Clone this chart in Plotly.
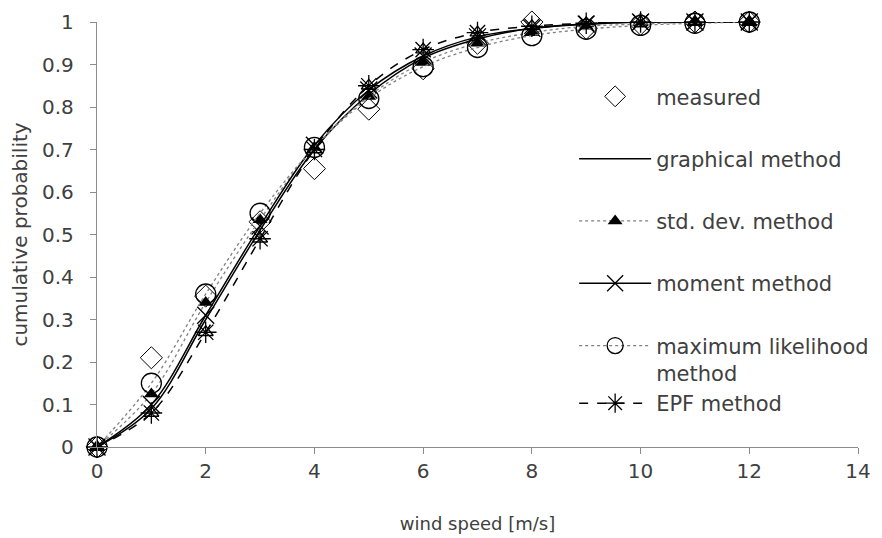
import plotly.graph_objects as go

wind_speed = [0, 1, 2, 3, 4, 5, 6, 7, 8, 9, 10, 11, 12]

measured = [0.0, 0.21, 0.355, 0.53, 0.655, 0.795, 0.89, 0.95, 1.0, 0.985, 0.995, 1.0, 1.0]
graphical = [0.0, 0.09, 0.30, 0.51, 0.70, 0.83, 0.915, 0.96, 0.985, 0.995, 1.0, 1.0, 1.0]
std_dev = [0.0, 0.125, 0.34, 0.535, 0.705, 0.825, 0.905, 0.95, 0.975, 0.99, 0.995, 1.0, 1.0]
moment = [0.0, 0.10, 0.31, 0.52, 0.71, 0.84, 0.92, 0.965, 0.985, 0.995, 1.0, 1.0, 1.0]
max_likelihood = [0.0, 0.15, 0.36, 0.55, 0.705, 0.82, 0.895, 0.94, 0.968, 0.983, 0.992, 0.997, 1.0]
epf = [0.0, 0.08, 0.27, 0.49, 0.70, 0.85, 0.935, 0.975, 0.99, 0.997, 1.0, 1.0, 1.0]

x_ticks = [0, 2, 4, 6, 8, 10, 12, 14]
y_ticks = [0, 0.1, 0.2, 0.3, 0.4, 0.5, 0.6, 0.7, 0.8, 0.9, 1]
y_tick_text = ["0", "0.1", "0.2", "0.3", "0.4", "0.5", "0.6", "0.7", "0.8", "0.9", "1"]

FONT = "DejaVu Sans"
TEXT = "#404040"
AXIS_GREY = "#8c8c8c"

fig = go.Figure()

# open triangles (unlabelled markers seen under the curves)
fig.add_trace(go.Scatter(
    x=wind_speed, y=epf, mode="markers", showlegend=False,
    marker=dict(symbol="triangle-up-open", size=13, color="black", line=dict(width=1.3)),
    cliponaxis=False, hoverinfo="skip"))

fig.add_trace(go.Scatter(
    x=wind_speed, y=measured, mode="markers", name="measured", legendgroup="a",
    marker=dict(symbol="diamond-open", size=17, color="black", line=dict(width=1)),
    cliponaxis=False))

fig.add_trace(go.Scatter(
    x=wind_speed, y=graphical, mode="lines", name="graphical method", legendgroup="b",
    line=dict(color="black", width=1.5, shape="spline"), cliponaxis=False))

fig.add_trace(go.Scatter(
    x=wind_speed, y=std_dev, mode="lines+markers", name="std. dev. method", legendgroup="c",
    line=dict(color="#7f7f7f", width=1.3, dash="dot", shape="spline"),
    marker=dict(symbol="triangle-up", size=13, color="black"), cliponaxis=False))

fig.add_trace(go.Scatter(
    x=wind_speed, y=moment, mode="lines+markers", name="moment method", legendgroup="d",
    line=dict(color="black", width=1.5, shape="spline"),
    marker=dict(symbol="x-thin-open", size=17, color="black", line=dict(width=1.3)),
    cliponaxis=False))

fig.add_trace(go.Scatter(
    x=wind_speed, y=max_likelihood, mode="lines+markers",
    name="maximum likelihood<br>method", legendgroup="e",
    line=dict(color="#7f7f7f", width=1.3, dash="dot", shape="spline"),
    marker=dict(symbol="circle-open", size=20, color="black", line=dict(width=1.3)),
    cliponaxis=False))

fig.add_trace(go.Scatter(
    x=wind_speed, y=epf, mode="lines+markers", name="EPF method", legendgroup="e",
    line=dict(color="black", width=1.5, dash="dash", shape="spline"),
    marker=dict(symbol="asterisk-open", size=18, color="black", line=dict(width=1.3)),
    cliponaxis=False))

fig.update_layout(
    width=874, height=530,
    margin=dict(l=89, r=24, t=14, b=91, autoexpand=False),
    paper_bgcolor="white", plot_bgcolor="white",
    font=dict(family=FONT, size=18, color=TEXT),
    showlegend=True,
    legend=dict(
        x=0.627, y=0.8725, xanchor="left", yanchor="top", valign="top",
        bgcolor="rgba(0,0,0,0)", tracegroupgap=32, itemwidth=72,
        font=dict(family=FONT, size=21, color=TEXT),
        traceorder="grouped",
    ),
    xaxis=dict(
        range=[0, 14], tickvals=x_ticks, showgrid=False, zeroline=False,
        showline=True, linecolor=AXIS_GREY, linewidth=1.3, automargin=False,
        ticks="outside", ticklen=6, tickcolor=AXIS_GREY,
        tickfont=dict(size=20),
        title=dict(text="wind speed [m/s]", font=dict(size=18), standoff=35),
    ),
    yaxis=dict(
        range=[0, 1], tickvals=y_ticks, ticktext=y_tick_text, showgrid=False, zeroline=False,
        showline=True, linecolor=AXIS_GREY, linewidth=1.3, automargin=False,
        ticks="outside", ticklen=6, tickcolor=AXIS_GREY, ticklabelstandoff=12,
        tickfont=dict(size=20),
        title=dict(text="cumulative probability", font=dict(size=20), standoff=10),
    ),
)

fig.write_html("out.html")
